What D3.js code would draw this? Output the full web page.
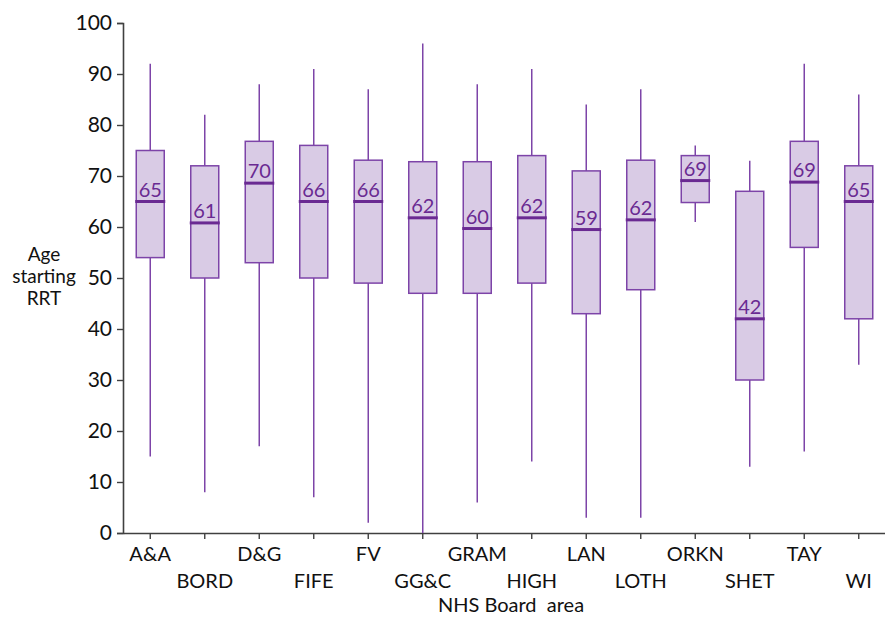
<!DOCTYPE html>
<html>
<head>
<meta charset="utf-8">
<script src="https://cdn.jsdelivr.net/npm/d3@7"></script>
<style>
  body { margin: 0; background: #fff; }
  text { font-family: Lato, "Open Sans", sans-serif; }
</style>
</head>
<body>
<div id="chart"></div>
<script>
// NHS board areas and box plot stats (age starting RRT)
const boards = ["A&A", "BORD", "D&G", "FIFE", "FV", "GG&C", "GRAM", "HIGH", "LAN", "LOTH", "ORKN", "SHET", "TAY", "WI"];
const mins    = [15, 8, 17, 7, 2, 0, 6, 14, 3, 3, 61, 13, 16, 33];
const q1s     = [54, 50, 53, 50, 49, 47, 47, 49, 43, 47.7, 64.8, 30, 56, 42];
const medians = [65, 60.8, 68.6, 65, 65, 61.8, 59.7, 61.8, 59.5, 61.4, 69.1, 42, 68.8, 65];
const q3s     = [75, 72, 76.8, 76, 73.1, 72.8, 72.8, 74, 71, 73.1, 74, 67, 76.8, 72];
const maxs    = [92, 82, 88, 91, 87, 96, 88, 91, 84, 87, 76, 73, 92, 86];
const medianLabels = ["65", "61", "70", "66", "66", "62", "60", "62", "59", "62", "69", "42", "69", "65"];
const yTicks = [0, 10, 20, 30, 40, 50, 60, 70, 80, 90, 100];

const data = boards.map((b, i) => ({
  board: b, min: mins[i], q1: q1s[i], median: medians[i], q3: q3s[i], max: maxs[i], label: medianLabels[i]
}));

const width = 885, height = 618;
const margin = {top: 23, right: 0, bottom: 85, left: 123};

const svg = d3.select("#chart").append("svg")
    .attr("width", width)
    .attr("height", height);

const x = d3.scaleBand().domain(boards).range([margin.left, 886]);
const y = d3.scaleLinear().domain([0, 100]).range([height - margin.bottom, margin.top]);

const axisColor = "#404040";
const boxStroke = "#7d44a8";
const medianColor = "#6a2a92";
const boxFill = "#d9cbe5";
const boxW = 28;

// y axis
const yAxis = svg.append("g")
    .attr("transform", `translate(${margin.left},0)`)
    .call(d3.axisLeft(y).tickValues(yTicks).tickSize(6).tickPadding(5));
yAxis.select(".domain").attr("stroke", axisColor).attr("stroke-width", 1.6);
yAxis.selectAll(".tick line").attr("stroke", axisColor).attr("stroke-width", 1.4);
yAxis.selectAll(".tick text")
    .attr("font-size", "21px")
    .attr("fill", "#111")
    .attr("font-family", "Lato, sans-serif");

// x axis
const xAxis = svg.append("g")
    .attr("transform", `translate(0,${y(0)})`)
    .call(d3.axisBottom(x).tickSize(6).tickSizeOuter(0));
xAxis.select(".domain").attr("stroke", axisColor).attr("stroke-width", 1.6);
xAxis.selectAll(".tick line").attr("stroke", axisColor).attr("stroke-width", 1.4);
xAxis.selectAll(".tick text")
    .attr("font-size", "20px")
    .attr("fill", "#111")
    .attr("font-family", "Lato, sans-serif")
    .attr("dy", null)
    .attr("y", (d, i) => i % 2 === 0 ? 28 : 55);

// axis titles
svg.append("text")
    .attr("x", 511)
    .attr("y", 612)
    .attr("text-anchor", "middle")
    .attr("font-size", "20px")
    .attr("fill", "#111")
    .attr("xml:space", "preserve")
    .text("NHS Board  area");

// y title, one text per line
svg.selectAll(".ytitle")
    .data(["Age", "starting", "RRT"])
    .enter().append("text")
    .attr("class", "ytitle")
    .attr("x", 44)
    .attr("y", (d, i) => 261 + i * 22)
    .attr("text-anchor", "middle")
    .attr("font-size", "19px")
    .attr("fill", "#111")
    .text(d => d);

// boxes
const g = svg.append("g");
const groups = g.selectAll(".box")
    .data(data)
    .enter().append("g")
    .attr("class", "box")
    .attr("transform", d => `translate(${x(d.board) + x.bandwidth() / 2},0)`);

// whiskers
groups.append("line")
    .attr("x1", 0).attr("x2", 0)
    .attr("y1", d => y(d.max)).attr("y2", d => y(d.q3))
    .attr("stroke", boxStroke).attr("stroke-width", 1.5);
groups.append("line")
    .attr("x1", 0).attr("x2", 0)
    .attr("y1", d => y(d.q1)).attr("y2", d => y(d.min))
    .attr("stroke", boxStroke).attr("stroke-width", 1.5);

groups.append("rect")
    .attr("x", -boxW / 2)
    .attr("width", boxW)
    .attr("y", d => y(d.q3))
    .attr("height", d => y(d.q1) - y(d.q3))
    .attr("fill", boxFill)
    .attr("stroke", boxStroke)
    .attr("stroke-width", 1.5);

groups.append("line")
    .attr("x1", -boxW / 2 - 1).attr("x2", boxW / 2 + 1)
    .attr("y1", d => y(d.median)).attr("y2", d => y(d.median))
    .attr("stroke", medianColor).attr("stroke-width", 3);

groups.append("text")
    .attr("x", 0)
    .attr("y", d => y(d.median) - 5)
    .attr("text-anchor", "middle")
    .attr("font-size", "20px")
    .attr("fill", medianColor)
    .text(d => d.label);
</script>
</body>
</html>
